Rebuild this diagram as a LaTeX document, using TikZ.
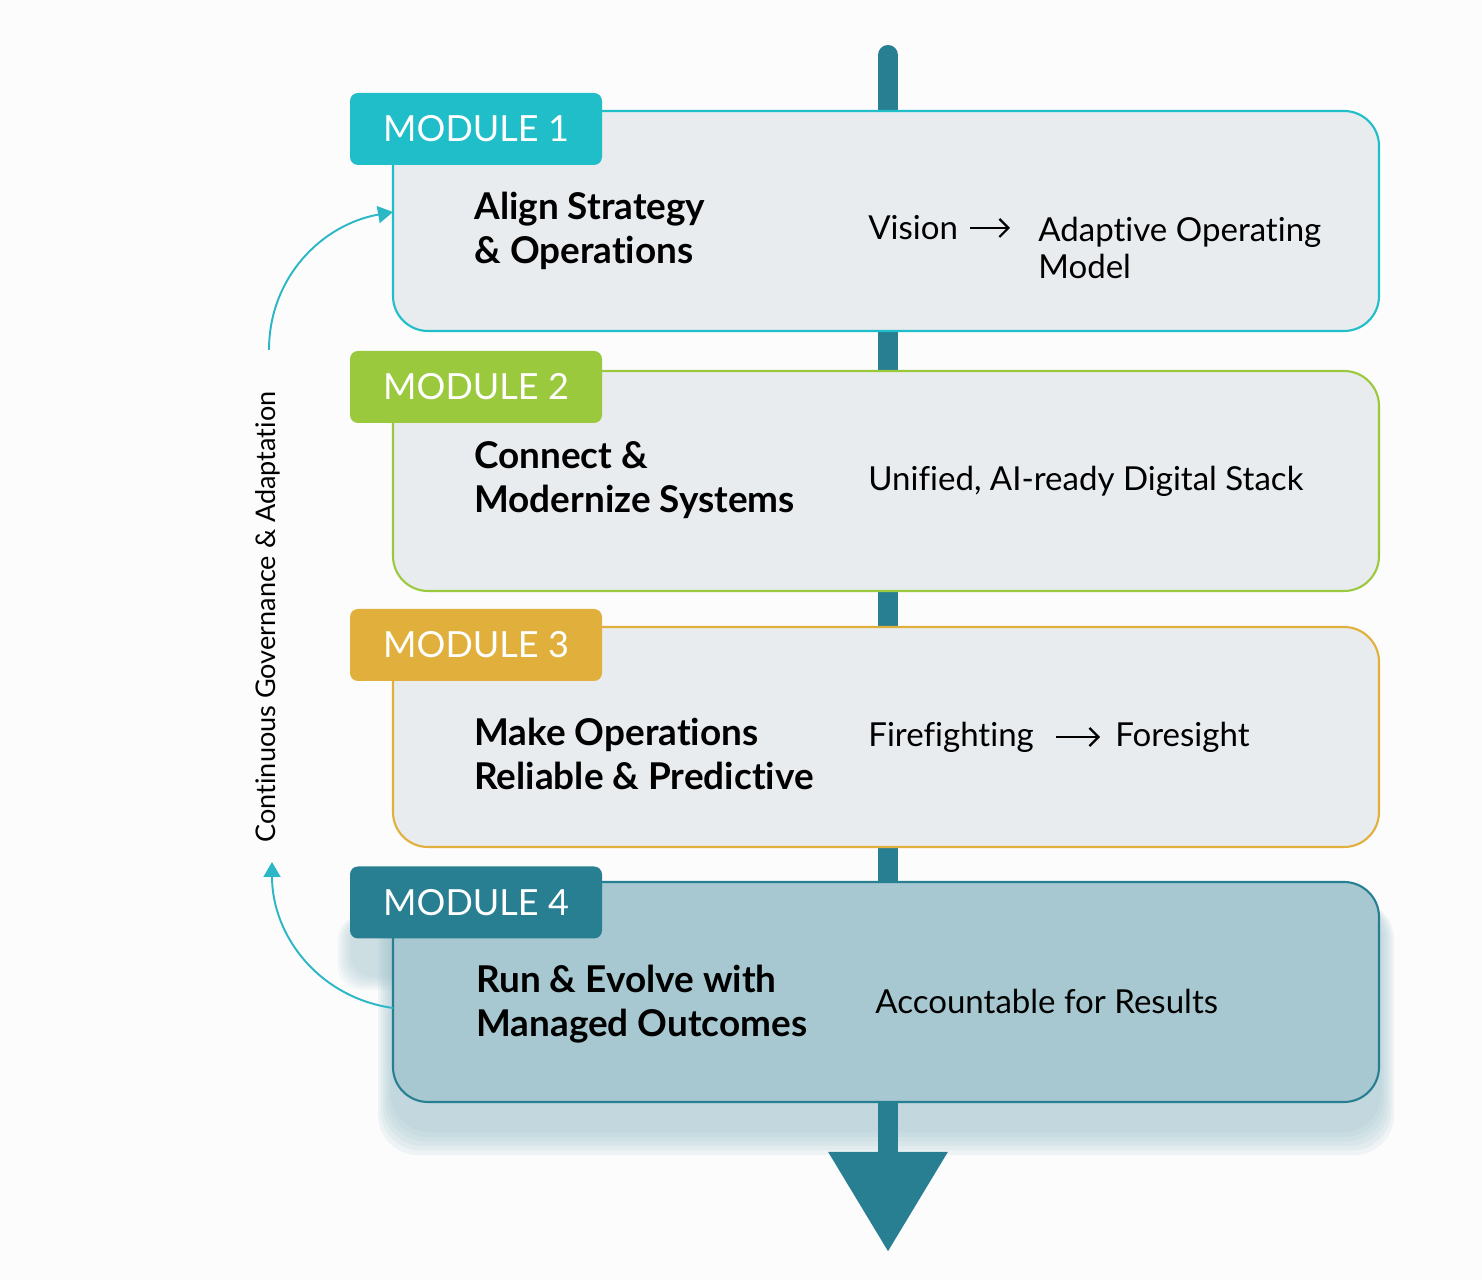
\documentclass[tikz,border=0pt]{standalone}
\usepackage{fontspec}
\setmainfont{Lato}[Ligatures=NoCommon]
\usetikzlibrary{arrows.meta}
\definecolor{modA}{HTML}{1FBEC8}
\definecolor{modB}{HTML}{9BC93E}
\definecolor{modC}{HTML}{E1B03C}
\definecolor{modD}{HTML}{287F92}
\definecolor{boxF}{HTML}{E8ECEF}
\definecolor{boxDF}{HTML}{A7C8D1}
\definecolor{shadeD}{HTML}{9FC3CC}
\definecolor{loopC}{HTML}{2BB7C6}
\definecolor{pageBg}{HTML}{FCFCFC}

\begin{document}
\begin{tikzpicture}[
    modbox/.style={rectangle,rounded corners=0.7cm,line width=1.2pt,
                   minimum width=19.72cm,minimum height=4.4cm,inner sep=0pt},
    tab/.style={rectangle,rounded corners=0.16cm,minimum width=5.04cm,
                minimum height=1.44cm,inner sep=0pt,text=white,
                font=\fontsize{20.5}{24}\selectfont},
    ttl/.style={anchor=west,align=left,inner sep=0pt,
                font=\fontsize{21}{25}\selectfont\bfseries},
    res/.style={anchor=west,align=left,inner sep=0pt,
                font=\fontsize{18.8}{21}\selectfont},
    tto/.style={-{Straight Barb[length=1.8mm,width=3.6mm]},line width=1.3pt},
    fb/.style={-{Triangle[length=3mm,width=3.4mm]},line width=1.1pt,color=loopC},
]
\useasboundingbox[fill=pageBg] (0,0) rectangle (29.64,25.6);

% soft shadow under the last module (box and tab)
\foreach \g in {0.3,0.25,0.2,0.15,0.1,0.05} {
   \fill[shadeD,opacity=0.14,rounded corners=0.8cm]
        (7.86-\g,3.04-1.8*\g) rectangle (27.58+\g,7.6);
   \fill[shadeD,opacity=0.1,rounded corners=0.5cm]
        (7.05-\g,6.1-\g) rectangle (12.04,7.3);
}

% =====================================================================
%  main flow bar (behind the modules)
% =====================================================================
\coordinate (flowtop) at (17.76,24.5);
\coordinate (flowend) at (17.76,0.56);
\draw[modD,line width=4mm,line cap=round,
      -{Triangle[length=20mm,width=22.8mm]}] (flowtop) -- (flowend);

% =====================================================================
%  module boxes + tabs
% =====================================================================
\foreach \n/\y/\ty/\e/\f in {1/21.18/23.02/modA/boxF,
                              2/15.98/17.86/modB/boxF,
                              3/10.86/12.70/modC/boxF,
                              4/5.76/7.55/modD/boxDF} {
   \node[modbox,draw=\e,fill=\f] (mod\n) at (17.72,\y) {};
   \node[tab,fill=\e] (tab\n) at (9.52,\ty) {MODULE \n};
}

% titles
\node[ttl] (ttl1) at (9.48,20.98) {Align Strategy\\\& Operations};
\node[ttl] (ttl2) at (9.48,16.00) {Connect \&\\Modernize Systems};
\node[ttl] (ttl3) at (9.48,10.52) {Make Operations\\Reliable \& Predictive};
\node[ttl] (ttl4) at (9.52,5.52)  {Run \& Evolve with\\Managed Outcomes};

% results
\node[res] (vis) at (17.36,21.04) {Vision};
\node[res,anchor=north west] (aom) at (20.76,21.26) {Adaptive Operating\\Model};
\draw[tto,shorten <=0.24cm,shorten >=0.56cm] (vis.east) -- (vis.east -| aom.west);
\node[res] (res2) at (17.36,15.98) {Unified, AI-ready Digital Stack};
\node[res] (ff) at (17.36,10.86) {Firefighting};
\node[res] (fs) at (22.30,10.86) {Foresight};
\draw[tto,shorten <=0.44cm,shorten >=0.3cm] (ff) -- (fs);
\node[res] (res4) at (17.50,5.58)  {Accountable for Results};

% =====================================================================
%  governance loop on the left
% =====================================================================
\node[rotate=90,font=\fontsize{15.4}{18}\selectfont] (gov) at (5.36,13.26)
     {Continuous Governance \& Adaptation};
\coordinate (gtop) at (5.38,18.6);
\coordinate (gbot) at (5.44,8.36);
\coordinate (m1in) at (7.86,21.36);
\coordinate (m4out) at (7.86,5.44);
\draw[fb] (gtop) to[out=90,in=190] (m1in);
\draw[fb] (m4out) to[out=172,in=-90] (gbot);

\end{tikzpicture}
\end{document}
